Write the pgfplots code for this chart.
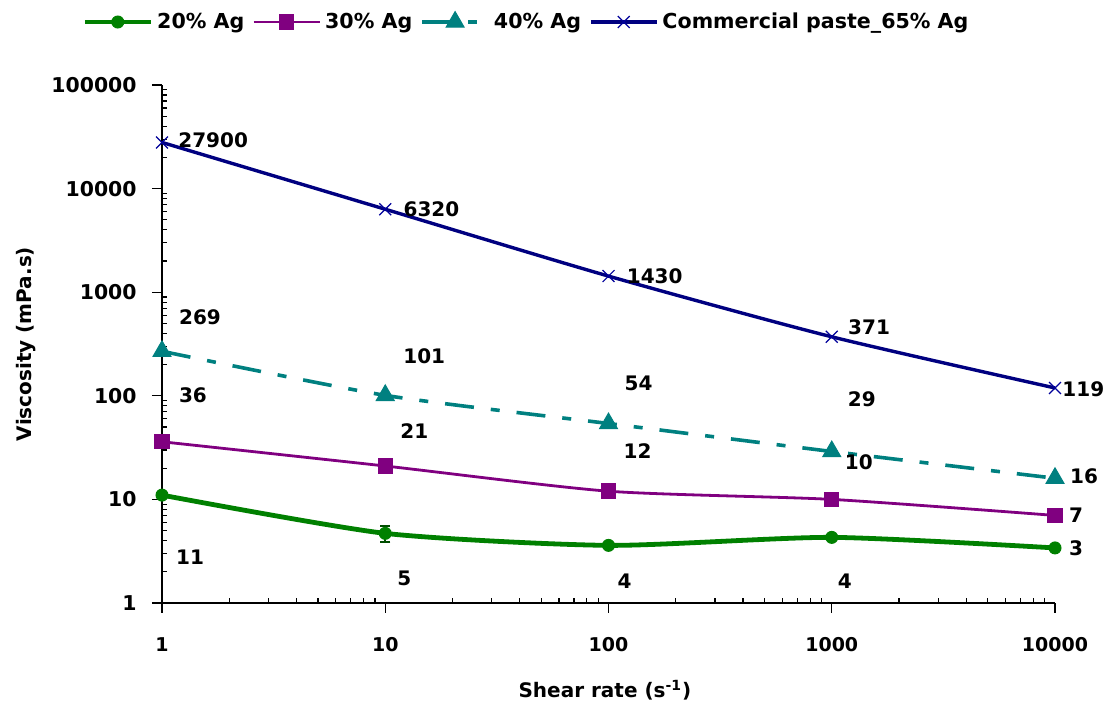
\documentclass[border=0pt]{standalone}
\usepackage{pgfplots}
\pgfplotsset{compat=1.18}
\usepackage{fontspec}
\setmainfont{DejaVu Sans}

\definecolor{agGreen}{RGB}{0,128,0}
\definecolor{agPurple}{RGB}{128,0,128}
\definecolor{agTeal}{RGB}{0,128,128}
\definecolor{agNavy}{RGB}{0,0,128}

\tikzset{
  lab/.style={font=\bfseries\fontsize{10}{12}\selectfont, inner sep=0pt, anchor=center},
}

\begin{document}
\begin{tikzpicture}
\useasboundingbox (-81pt,-57pt) rectangle (474pt,301.5pt);
\begin{axis}[
  at={(0,0)}, anchor=south west,
  scale only axis, width=446.5pt, height=259pt,
  xmode=log, ymode=log,
  xmin=1, xmax=10000, ymin=1, ymax=100000,
  clip=false,
  axis lines=left,
  axis line style={-, black, line width=0.8pt},
  xtick={1,10,100,1000,10000},
  xticklabels={1,10,100,1000,10000},
  ytick={1,10,100,1000,10000,100000},
  yticklabels={1,10,100,1000,10000,100000},
  minor xtick={2,3,4,5,6,7,8,9,20,30,40,50,60,70,80,90,200,300,400,500,600,700,800,900,2000,3000,4000,5000,6000,7000,8000,9000},
  minor ytick={2,3,4,5,6,7,8,9,20,30,40,50,60,70,80,90,200,300,400,500,600,700,800,900,2000,3000,4000,5000,6000,7000,8000,9000,20000,30000,40000,50000,60000,70000,80000,90000},
  tick align=inside,
  major tick length=5pt,
  minor tick length=2.5pt,
  tick style={black, line width=0.6pt},
  major x tick style={yshift=-5pt},
  major y tick style={xshift=-5pt},
  xticklabel style={font=\bfseries\fontsize{9.5}{11}\selectfont, anchor=north, inner sep=0pt, yshift=-17pt},
  yticklabel style={font=\bfseries\fontsize{10.2}{12}\selectfont, anchor=east, inner sep=0pt, xshift=-12.5pt},
  xlabel={Shear rate (s\textsuperscript{-1})},
  ylabel={Viscosity (mPa.s)},
  xlabel style={font=\bfseries\fontsize{10}{12}\selectfont, at={(axis description cs:0.496,-0.168)}, anchor=center, inner sep=0pt},
  ylabel style={font=\bfseries\fontsize{10}{12}\selectfont, at={(axis description cs:-0.152,0.5)}, anchor=center, inner sep=0pt, rotate=0},
  legend columns=4,
  legend cell align=left,
  legend style={draw=none, fill=none, inner sep=0pt,
    at={(axis description cs:-0.0896,1.1216)}, anchor=west,
    font=\bfseries\fontsize{10.3}{12}\selectfont,
    /tikz/every even column/.append style={column sep=2pt}},
  legend image code/.code={%
    \draw[mark repeat=2, mark phase=2] plot coordinates {(0pt,0pt) (16.5pt,0pt) (33pt,0pt)};},
  every axis plot/.append style={smooth, tension=0.4},
]

% 20% Ag
\addplot[agGreen, line width=2.4pt, mark=*, mark size=3pt,
  mark options={solid, line width=0.5pt},
  error bars/.cd, y dir=both, y explicit,
  error bar style={line width=1pt, agGreen!60!black},
  error mark options={rotate=90, mark size=2.5pt, line width=1pt, agGreen!60!black}]
  coordinates {(1,11) +- (0,0) (10,4.7) +- (0,0.8) (100,3.6) +- (0,0) (1000,4.3) +- (0,0) (10000,3.4) +- (0,0)};
\addlegendentry{20\% Ag}

% 30% Ag
\addplot[agPurple, line width=1.4pt, mark=square*, mark size=3.6pt,
  mark options={solid, line width=0.5pt}]
  coordinates {(1,36) (10,21) (100,12) (1000,10) (10000,7)};
\addlegendentry{30\% Ag}

% 40% Ag
\addplot[agTeal, line width=1.8pt, dash pattern=on 14.5pt off 8.5pt on 4.5pt off 8.5pt,
  mark=triangle*, mark size=5.2pt, mark options={solid, line width=0.5pt}]
  coordinates {(1,269) (10,101) (100,54) (1000,29) (10000,16)};
\addlegendentry{40\% Ag}

% Commercial paste
\addplot[agNavy, line width=1.7pt, mark=x, mark size=4.2pt,
  mark options={solid, line width=0.6pt, agNavy!80!blue}]
  coordinates {(1,27900) (10,6320) (100,1430) (1000,371) (10000,119)};
\addlegendentry{Commercial paste\_65\% Ag}

% value labels, commercial paste
\node[lab, anchor=west, xshift=8pt, yshift=1pt] at (axis cs:1,27900) {27900};
\node[lab, anchor=west, xshift=9pt] at (axis cs:10,6320) {6320};
\node[lab, anchor=west, xshift=9pt] at (axis cs:100,1430) {1430};
\node[lab, anchor=west, xshift=8pt, yshift=5pt] at (axis cs:1000,371) {371};
\node[lab, anchor=west, xshift=3.5pt, yshift=-0.5pt] at (axis cs:10000,119) {119};

% value labels, 40% Ag
\node[lab, xshift=19pt, yshift=17pt] at (axis cs:1,269) {269};
\node[lab, xshift=19.5pt, yshift=19.5pt] at (axis cs:10,101) {101};
\node[lab, xshift=15pt, yshift=20pt] at (axis cs:100,54) {54};
\node[lab, xshift=15pt, yshift=26pt] at (axis cs:1000,29) {29};
\node[lab, xshift=14.5pt, yshift=1pt] at (axis cs:10000,16) {16};

% value labels, 30% Ag
\node[lab, xshift=15.5pt, yshift=23.5pt] at (axis cs:1,36) {36};
\node[lab, xshift=14.5pt, yshift=17.5pt] at (axis cs:10,21) {21};
\node[lab, xshift=14.5pt, yshift=20pt] at (axis cs:100,12) {12};
\node[lab, xshift=13.5pt, yshift=18.5pt] at (axis cs:1000,10) {10};
\node[lab, xshift=10.5pt] at (axis cs:10000,7) {7};

% value labels, 20% Ag
\node[lab, xshift=14pt, yshift=-31pt] at (axis cs:1,11) {11};
\node[lab, xshift=9.5pt, yshift=-22.5pt] at (axis cs:10,4.7) {5};
\node[lab, xshift=8pt, yshift=-18pt] at (axis cs:100,3.6) {4};
\node[lab, xshift=6.5pt, yshift=-22pt] at (axis cs:1000,4.3) {4};
\node[lab, xshift=10.5pt] at (axis cs:10000,3.4) {3};
\end{axis}
\end{tikzpicture}
\end{document}
